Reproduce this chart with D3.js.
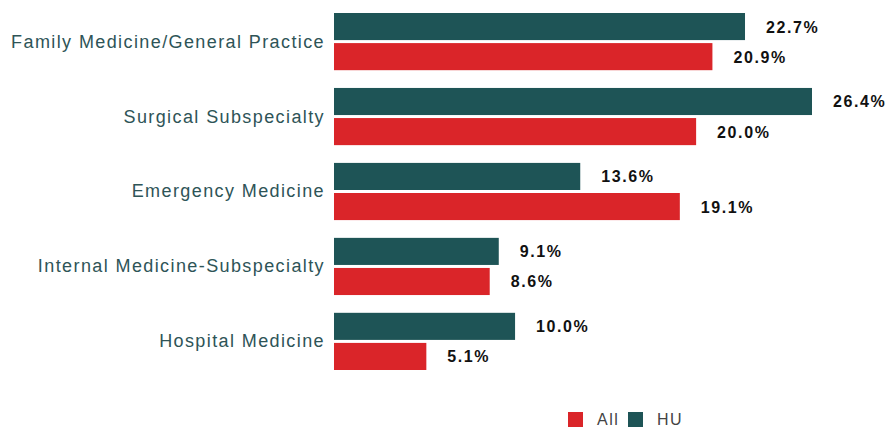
<!DOCTYPE html>
<html><head><meta charset="utf-8">
<script src="https://cdn.jsdelivr.net/npm/d3@7"></script>
<style>body{margin:0;background:#fff}svg{display:block}</style>
</head><body><svg id="c" width="885" height="428"></svg>
<script>
const categories = ["Family Medicine/General Practice","Surgical Subspecialty","Emergency Medicine","Internal Medicine-Subspecialty","Hospital Medicine"];
const huValues = [22.7, 26.4, 13.6, 9.1, 10.0];
const allValues = [20.9, 20.0, 19.1, 8.6, 5.1];
const seriesNames = ["HU","All"];
const legendNames = ["All","HU"];
const colors = {HU:"#1e5456", All:"#da2529"};

const svg = d3.select("#c");
const font = "Liberation Sans, Arial, sans-serif";
const x0 = 334;
const x = d3.scaleLinear().domain([0, 26.4]).range([x0, 812]);
const y = d3.scaleBand().domain(categories).range([13, 370]).paddingInner(0.237).paddingOuter(0);
const ySub = d3.scaleBand().domain(seriesNames).range([0, y.bandwidth()]).paddingInner(0.1);

const data = categories.map((c,i)=>({c, HU:huValues[i], All:allValues[i]}));
const g = svg.append("g").selectAll("g").data(data).join("g")
  .attr("transform", d=>`translate(0,${y(d.c)})`);
g.selectAll("rect").data(d=>seriesNames.map(k=>({k,v:d[k]}))).join("rect")
  .attr("x", x0).attr("y", d=>ySub(d.k)).attr("height", ySub.bandwidth())
  .attr("width", d=>x(d.v)-x0).attr("fill", d=>colors[d.k]);
g.selectAll("text.v").data(d=>seriesNames.map(k=>({k,v:d[k]}))).join("text")
  .attr("class","v")
  .attr("x", d=>x(d.v)+21).attr("y", d=>ySub(d.k)+ySub.bandwidth()/2+6)
  .attr("font-family",font).attr("font-weight","bold")
  .attr("font-size",16).attr("letter-spacing","1.6px").attr("fill","#111")
  .text(d=>d.v.toFixed(1)+"%");
g.append("text").attr("x",325).attr("y", y.bandwidth()/2+6)
  .attr("text-anchor","end").attr("font-family",font)
  .attr("font-size",18).attr("letter-spacing","1.4px").attr("fill","#2e5457")
  .text(d=>d.c);

const lg = svg.append("g");
const lx = [568, 628];
legendNames.forEach((n,i)=>{
  lg.append("rect").attr("x",lx[i]).attr("y",412).attr("width",15).attr("height",15).attr("fill",colors[n]);
  lg.append("text").attr("x",lx[i]+29).attr("y",425).attr("font-family",font)
    .attr("font-size",16).attr("letter-spacing","1.5px").attr("fill","#444").text(n);
});
</script></body></html>
